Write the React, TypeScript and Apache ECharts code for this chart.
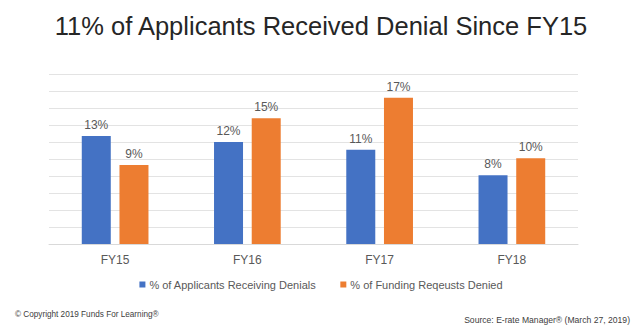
import React, { useEffect, useRef } from "react";
import * as echarts from "echarts";

const categories = ["FY15", "FY16", "FY17", "FY18"];
const applicantsDenied = [12.7, 12.0, 11.1, 8.1];
const fundingDenied = [9.3, 14.8, 17.2, 10.1];
const seriesNames = ["% of Applicants Receiving Denials", "% of Funding Reqeusts Denied"];
const titleText = "11% of Applicants Received Denial Since FY15";
const copyrightText = "© Copyright 2019 Funds For Learning®";
const sourceText = "Source: E-rate Manager® (March 27, 2019)";

const FONT = "'Liberation Sans', Arial, sans-serif";

export default function App() {
  const ref = useRef<HTMLDivElement>(null);
  useEffect(() => {
    document.body.style.margin = "0";
    if (!ref.current) return;
    const chart = echarts.init(ref.current, undefined, { renderer: "svg" });
    const labelFmt = (p: any) => Math.round(p.value) + "%";
    chart.setOption({
      animation: false,
      backgroundColor: "#ffffff",
      textStyle: { fontFamily: FONT },
      title: {
        text: titleText,
        left: "center",
        top: 8,
        textStyle: { fontFamily: FONT, fontSize: 25.5, fontWeight: "normal", color: "#262626" },
      },
      grid: { left: 49, right: 64, top: 74, bottom: 90 },
      legend: {
        data: seriesNames,
        top: 274,
        left: "center",
        itemWidth: 6,
        itemHeight: 6,
        itemGap: 24,
        icon: "rect",
        textStyle: { fontFamily: FONT, fontSize: 11, color: "#595959", padding: [0, 0, 0, -1] },
      },
      xAxis: {
        type: "category",
        data: categories,
        axisLine: { lineStyle: { color: "#D9D9D9" } },
        axisTick: { show: false },
        axisLabel: { color: "#595959", fontSize: 12, margin: 10, fontFamily: FONT },
      },
      yAxis: {
        type: "value",
        min: 0,
        max: 20,
        interval: 2,
        axisLabel: { show: false },
        axisLine: { show: false },
        axisTick: { show: false },
        splitLine: { lineStyle: { color: "#E3E3E3", width: 1 } },
      },
      series: [
        {
          name: seriesNames[0],
          type: "bar",
          data: applicantsDenied,
          barWidth: 29,
          barGap: "30%",
          itemStyle: { color: "#4472C4" },
          label: { show: true, position: "top", formatter: labelFmt, color: "#595959", fontSize: 12, distance: 5, fontFamily: FONT },
        },
        {
          name: seriesNames[1],
          type: "bar",
          data: fundingDenied,
          barWidth: 29,
          itemStyle: { color: "#ED7D31" },
          label: { show: true, position: "top", formatter: labelFmt, color: "#595959", fontSize: 12, distance: 5, fontFamily: FONT },
        },
      ],
      graphic: [
        {
          type: "text",
          left: 15,
          top: 310,
          style: { text: copyrightText, fontSize: 8.2, fill: "#404040", fontFamily: FONT },
        },
        {
          type: "text",
          right: 12,
          top: 315,
          style: { text: sourceText, fontSize: 8.6, fill: "#404040", fontFamily: FONT },
        },
      ],
    });
    return () => chart.dispose();
  }, []);
  return <div ref={ref} style={{ width: 642, height: 334 }} />;
}
